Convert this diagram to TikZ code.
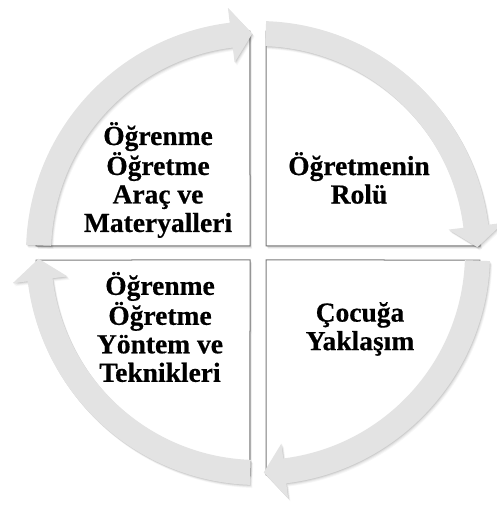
\documentclass[tikz,border=0pt]{standalone}
\usepackage{fontspec}
\setmainfont{Liberation Serif}[BoldFeatures={FakeBold=0.5}]
\definecolor{ringgray}{HTML}{E3E3E3}
\definecolor{edgegray}{HTML}{7A7A7A}
\newcommand\QTL{(-8,7) -- (92.07:222) arc[start angle=92.07, end angle=178.19, radius=222] -- cycle}
\newcommand\QTR{(8,7) -- (1.81:222) arc[start angle=1.81, end angle=87.93, radius=222] -- cycle}
\newcommand\QBR{(8,-7) -- (-87.93:222) arc[start angle=-87.93, end angle=-1.81, radius=222] -- cycle}
\newcommand\QBL{(-8,-7) -- (181.81:222) arc[start angle=181.81, end angle=267.93, radius=222] -- cycle}
\newcommand\ringarrow[1]{({#1-2}:232) arc[start angle={#1-2}, end angle={#1-83}, radius=232]
 -- ({#1-83}:247) -- ({#1-88.5}:219.5) -- ({#1-83}:192) -- ({#1-83}:207)
 arc[start angle={#1-83}, end angle={#1-2}, radius=207] -- cycle}
\begin{document}
\begin{tikzpicture}[x=1pt,y=1pt,
  lbl/.style={font=\fontsize{27.5}{28.5}\selectfont\bfseries, align=center, text=black},
  quad/.style={fill=white, draw=edgegray, line width=1pt},
  ringfill/.style={fill=ringgray, draw=none},
  softshadow/.style={fill=black, opacity=#1},
]
\useasboundingbox (0,0) rectangle (496,505);
\begin{scope}[shift={(258,252)}]
  % soft shadows of the four quadrants
  \foreach \d/\o in {1/0.12,2/0.09,3/0.06,4/0.04}{
    \path[softshadow=\o, shift={(\d*0.5,-\d*0.7)}] \QTL \QTR \QBR \QBL;
  }
  \path[quad] \QTL;
  \path[quad] \QTR;
  \path[quad] \QBR;
  \path[quad] \QBL;
  % soft shadows of the ring arrows
  \foreach \d/\o in {1/0.08,2/0.06,3/0.04,4/0.03}{
    \path[softshadow=\o, shift={(\d*0.6,-\d*0.8)}] \ringarrow{180} \ringarrow{90} \ringarrow{0} \ringarrow{270};
  }
  \path[ringfill] \ringarrow{180};
  \path[ringfill] \ringarrow{90};
  \path[ringfill] \ringarrow{0};
  \path[ringfill] \ringarrow{270};
\end{scope}
\node[lbl] (araclar) at (158,325) {Öğrenme\\Öğretme\\Araç ve\\Materyalleri};
\node[lbl] (rol) at (359,327) {Öğretmenin\\Rolü};
\node[lbl] (yontem) at (160,178) {Öğrenme\\Öğretme\\Yöntem ve\\Teknikleri};
\node[lbl] (cocuk) at (360,176) {Çocuğa\\Yaklaşım};
\end{tikzpicture}
\end{document}
